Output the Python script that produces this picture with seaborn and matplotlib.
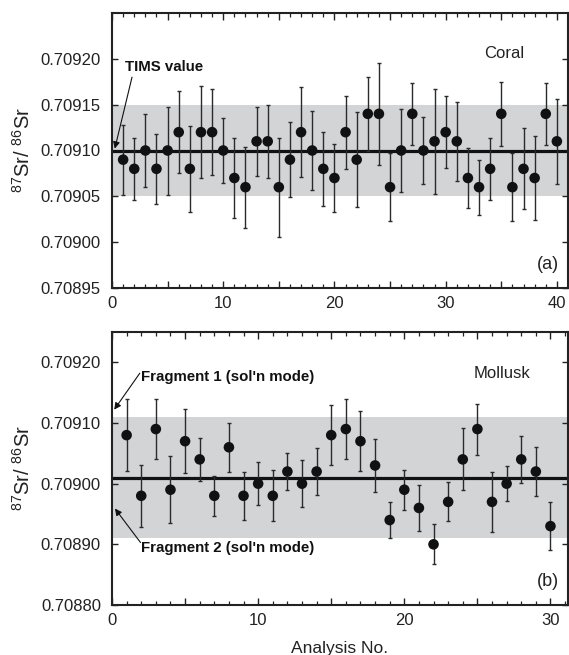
import matplotlib
matplotlib.use("Agg")
import matplotlib.pyplot as plt
import seaborn as sns
import pandas as pd
import numpy as np
from matplotlib.ticker import MultipleLocator, FuncFormatter

# ---- Data: Coral (panel a) ----
coral_x = list(range(1, 41))
coral_sr = [0.70909, 0.70908, 0.70910, 0.70908, 0.70910, 0.70912, 0.70908, 0.70912, 0.70912, 0.70910,
            0.70907, 0.70906, 0.70911, 0.70911, 0.70906, 0.70909, 0.70912, 0.70910, 0.70908, 0.70907,
            0.70912, 0.70909, 0.70914, 0.70914, 0.70906, 0.70910, 0.70914, 0.70910, 0.70911, 0.70912,
            0.70911, 0.70907, 0.70906, 0.70908, 0.70914, 0.70906, 0.70908, 0.70907, 0.70914, 0.70911]
coral_err = [0.000038, 0.000034, 0.000040, 0.000038, 0.000048, 0.000045, 0.000047, 0.000050, 0.000047, 0.000035,
             0.000044, 0.000044, 0.000038, 0.000040, 0.000054, 0.000041, 0.000049, 0.000043, 0.000040, 0.000037,
             0.000040, 0.000052, 0.000040, 0.000056, 0.000037, 0.000045, 0.000034, 0.000037, 0.000057, 0.000039,
             0.000043, 0.000033, 0.000030, 0.000034, 0.000035, 0.000037, 0.000044, 0.000046, 0.000034, 0.000046]
coral_mean = 0.70910
coral_band = (0.70905, 0.70915)

# ---- Data: Mollusk (panel b) ----
moll_x = list(range(1, 31))
moll_sr = [0.70908, 0.70898, 0.70909, 0.70899, 0.70907, 0.70904, 0.70898, 0.70906, 0.70898, 0.70900,
           0.70898, 0.70902, 0.70900, 0.70902, 0.70908, 0.70909, 0.70907, 0.70903, 0.70894, 0.70899,
           0.70896, 0.70890, 0.70897, 0.70904, 0.70909, 0.70897, 0.70900, 0.70904, 0.70902, 0.70893]
moll_err = [0.000059, 0.000051, 0.000050, 0.000055, 0.000053, 0.000035, 0.000033, 0.000040, 0.000040, 0.000035,
            0.000042, 0.000030, 0.000039, 0.000039, 0.000049, 0.000050, 0.000049, 0.000044, 0.000030, 0.000033,
            0.000038, 0.000033, 0.000032, 0.000051, 0.000042, 0.000050, 0.000029, 0.000039, 0.000040, 0.000040]
moll_mean = 0.70901
moll_band = (0.70891, 0.70911)

sns.set_style("ticks")
plt.rcParams['font.family'] = ['Liberation Sans', 'DejaVu Sans']
plt.rcParams['mathtext.fontset'] = 'custom'
plt.rcParams['mathtext.rm'] = 'Liberation Sans'

fig = plt.figure(figsize=(5.69, 6.55), dpi=100)
ax1 = fig.add_axes([112/569, 1-288/655, 456/569, 275/655])
ax2 = fig.add_axes([112/569, 1-605/655, 456/569, 273/655])

band_color = '#d3d4d6'
ylab = r'$^{87}$Sr/ $^{86}$Sr'
arrow_kw = dict(arrowstyle='-|>', color='#111111', lw=0.8, mutation_scale=10,
                shrinkA=0, shrinkB=0)


def panel(ax, x, y, err, mean, band, xmax, ylim, yticks):
    df = pd.DataFrame({'x': x, 'y': y, 'err': err})
    ax.axhspan(band[0], band[1], color=band_color, lw=0, zorder=0)
    ax.axhline(mean, color='#111111', lw=2.3, zorder=2)
    ax.errorbar(df['x'], df['y'], yerr=df['err'], fmt='none', ecolor='#2a2a2a',
                elinewidth=1.0, capsize=1.6, capthick=1.0, zorder=3)
    sns.scatterplot(data=df, x='x', y='y', ax=ax, color='#111111', s=58,
                    edgecolor='none', zorder=4, legend=False)
    ax.set_xlim(0, xmax)
    ax.set_ylim(*ylim)
    ax.set_yticks(yticks)
    ax.yaxis.set_major_formatter(FuncFormatter(lambda v, p: f'{v:.5f}'))
    ax.xaxis.set_major_locator(MultipleLocator(5))
    ax.xaxis.set_minor_locator(MultipleLocator(1))
    ax.xaxis.set_major_formatter(FuncFormatter(lambda v, p: f'{int(round(v))}' if int(round(v)) % 10 == 0 else ''))
    ax.tick_params(axis='both', which='both', direction='in', top=True, right=True,
                   labelsize=12, colors='#222222', labelcolor='#222222')
    ax.tick_params(axis='x', which='major', length=5, width=1.0, pad=6)
    ax.tick_params(axis='x', which='minor', length=3, width=0.9)
    ax.tick_params(axis='y', which='major', length=4, width=1.0, pad=8)
    for s in ax.spines.values():
        s.set_linewidth(1.5)
        s.set_color('#222222')
    ax.set_xlabel('')
    ax.set_ylabel(ylab, fontsize=14.5, color='#222222', labelpad=5)


panel(ax1, coral_x, coral_sr, coral_err, coral_mean, coral_band, 41,
      (0.70895, 0.70925), [0.70895, 0.70900, 0.70905, 0.70910, 0.70915, 0.70920])
panel(ax2, moll_x, moll_sr, moll_err, moll_mean, moll_band, 31.2,
      (0.70880, 0.70925), [0.70880, 0.70890, 0.70900, 0.70910, 0.70920])

# Annotations panel (a)
ax1.text(1.2, 0.709191, 'TIMS value', fontsize=10.8, fontweight='bold',
         color='#111111', va='center', ha='left')
ax1.annotate('', xy=(0.25, 0.709102), xytext=(1.8, 0.709180), arrowprops=arrow_kw)
ax1.text(35.3, 0.709206, 'Coral', fontsize=12, ha='center', va='center', color='#222222')
ax1.text(39.2, 0.708976, '(a)', fontsize=13, ha='center', va='center', color='#222222')

# Annotations panel (b)
ax2.annotate('', xy=(0.15, 0.709122), xytext=(1.9, 0.709182), arrowprops=arrow_kw)
ax2.text(2.0, 0.709175, "Fragment 1 (sol'n mode)", fontsize=10.8, fontweight='bold',
         ha='left', va='center', color='#111111')
ax2.annotate('', xy=(0.2, 0.708959), xytext=(1.95, 0.708903), arrowprops=arrow_kw)
ax2.text(2.0, 0.708894, "Fragment 2 (sol'n mode)", fontsize=10.8, fontweight='bold',
         ha='left', va='center', color='#111111')
ax2.text(26.7, 0.709182, 'Mollusk', fontsize=12, ha='center', va='center', color='#222222')
ax2.text(29.8, 0.708839, '(b)', fontsize=13, ha='center', va='center', color='#222222')
ax2.set_xlabel('Analysis No.', fontsize=12.5, color='#222222', labelpad=9)

fig.savefig('out.png', dpi=100)
